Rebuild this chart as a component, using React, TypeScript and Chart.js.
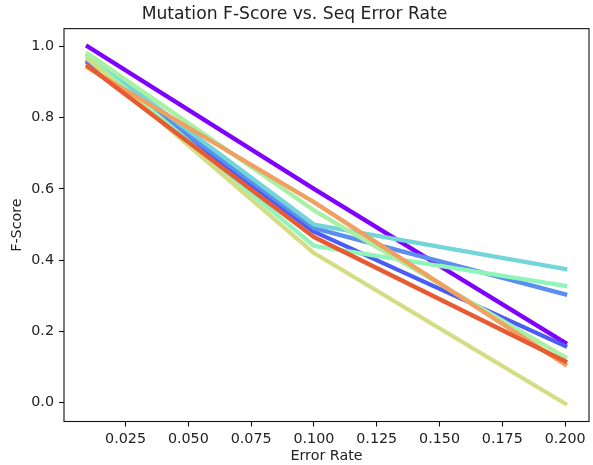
import React, { useEffect, useRef } from "react";
import { Chart, registerables } from "chart.js";

Chart.register(...registerables);

// ---- data ----
const errorRates = [0.01, 0.1, 0.2];
const xTicks = [0.025, 0.05, 0.075, 0.1, 0.125, 0.15, 0.175, 0.2];
const yTicks = [0.0, 0.2, 0.4, 0.6, 0.8, 1.0];

const seriesPurple = [1.0, 0.6, 0.168];
const seriesBlue = [0.955, 0.48, 0.159];
const seriesCornflower = [0.96, 0.49, 0.304];
const seriesCyan = [0.975, 0.5, 0.375];
const seriesMint = [0.97, 0.44, 0.328];
const seriesLightGreen = [0.98, 0.54, 0.127];
const seriesYellow = [0.965, 0.42, -0.003];
const seriesOrange = [0.94, 0.563, 0.107];
const seriesRed = [0.945, 0.465, 0.116];

const allSeries = [
  seriesPurple,
  seriesBlue,
  seriesCornflower,
  seriesCyan,
  seriesMint,
  seriesLightGreen,
  seriesYellow,
  seriesOrange,
  seriesRed,
];
const seriesColors = [
  "#8000ff",
  "#4a5cf5",
  "#5a8ef0",
  "#72d6d8",
  "#90f5b8",
  "#a8f0a4",
  "#d4dc84",
  "#f0a060",
  "#e85a32",
];

const titleText = "Mutation F-Score vs. Seq Error Rate";
const xLabel = "Error Rate";
const yLabel = "F-Score";

const FONT = "DejaVu Sans";
const TEXT = "#222222";

function paddedRange(values: number[]) {
  const lo = Math.min(...values);
  const hi = Math.max(...values);
  const m = (hi - lo) * 0.05;
  return [lo - m, hi + m];
}

const framePlugin = {
  id: "frame",
  afterDatasetsDraw(chart: any) {
    const { ctx, chartArea } = chart;
    const { left, top, right, bottom } = chartArea;
    ctx.save();
    ctx.strokeStyle = "#111111";
    ctx.lineWidth = 1.1;
    ctx.strokeRect(left, top, right - left, bottom - top);
    ctx.restore();
  },
};

export default function App() {
  const ref = useRef<HTMLCanvasElement | null>(null);

  useEffect(() => {
    if (!ref.current) return;
    const [xMin, xMax] = paddedRange(errorRates);
    const [yMin, yMax] = paddedRange(allSeries.flat());

    const datasets = allSeries.map((s, i) => ({
      label: `s${i}`,
      data: s.map((y, j) => ({ x: errorRates[j], y })),
      borderColor: seriesColors[i],
      backgroundColor: seriesColors[i],
      borderWidth: 4.3,
      pointRadius: 0,
      tension: 0,
      fill: false,
      borderJoinStyle: "round" as const,
      borderCapStyle: "square" as const,
      order: allSeries.length - i,
    }));

    const chart = new Chart(ref.current, {
      type: "line",
      data: { datasets },
      options: {
        animation: false,
        responsive: false,
        devicePixelRatio: 1,
        layout: { padding: { left: 0, right: 4, top: 0, bottom: 0 } },
        plugins: {
          legend: { display: false },
          tooltip: { enabled: false },
          title: {
            display: true,
            text: titleText,
            color: TEXT,
            font: { family: FONT, size: 17.2, weight: "normal" },
            padding: { top: 4, bottom: 4 },
          },
        },
        scales: {
          x: {
            type: "linear",
            min: xMin,
            max: xMax,
            afterBuildTicks: (scale: any) => {
              scale.ticks = xTicks.map((value) => ({ value }));
            },
            afterFit: (scale: any) => {
              scale.height = 43.5;
            },
            ticks: {
              color: TEXT,
              font: { family: FONT, size: 14.3 },
              padding: 4,
              maxRotation: 0,
              autoSkip: false,
              callback: (v: any) => Number(v).toFixed(3),
            },
            grid: {
              display: true,
              drawOnChartArea: false,
              drawTicks: true,
              tickLength: 5,
              tickColor: "#111111",
              tickWidth: 1.1,
            },
            border: { display: false },
            title: {
              display: true,
              text: xLabel,
              color: TEXT,
              font: { family: FONT, size: 14.3 },
              padding: { top: 0, bottom: 0 },
            },
          },
          y: {
            type: "linear",
            min: yMin,
            max: yMax,
            afterBuildTicks: (scale: any) => {
              scale.ticks = yTicks.map((value) => ({ value }));
            },
            afterFit: (scale: any) => {
              scale.width = 64;
            },
            ticks: {
              color: TEXT,
              font: { family: FONT, size: 14.3 },
              padding: 5,
              autoSkip: false,
              callback: (v: any) => Number(v).toFixed(1),
            },
            grid: {
              display: true,
              drawOnChartArea: false,
              drawTicks: true,
              tickLength: 5,
              tickColor: "#111111",
              tickWidth: 1.1,
            },
            border: { display: false },
            title: {
              display: true,
              text: yLabel,
              color: TEXT,
              font: { family: FONT, size: 14.3 },
              padding: { top: 8.5, bottom: 0 },
            },
          },
        },
      },
      plugins: [framePlugin],
    });

    return () => chart.destroy();
  }, []);

  return (
    <div style={{ position: "absolute", left: 0, top: 0, width: 593, height: 465, background: "#ffffff" }}>
      <canvas ref={ref} width={593} height={465} style={{ width: 593, height: 465 }} />
    </div>
  );
}
